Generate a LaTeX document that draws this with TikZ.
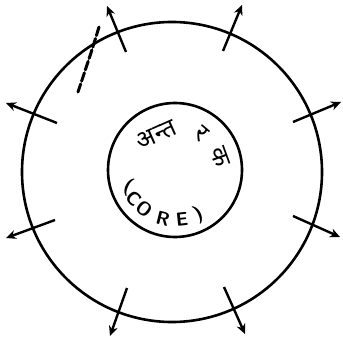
\documentclass[tikz,border=0pt]{standalone}
\usepackage{fontspec}
\newfontfamily\hindifont[Script=Devanagari]{Noto Sans}
\usepackage{tikz}
\usetikzlibrary{calc,arrows.meta,decorations.pathmorphing}

\begin{document}
\begin{tikzpicture}[x=1pt,y=-1pt,>={Stealth[length=10pt,width=9pt]},
    shell/.style={circle,draw,line width=2.6pt,inner sep=0pt},
    ray/.style={->,line width=2.4pt},
    coreletter/.style={font=\fontsize{19}{21}\selectfont\sffamily\bfseries,inner sep=0pt},
    hindi/.style={font=\fontsize{25}{28}\selectfont\hindifont\bfseries,inner sep=0pt}]
      \useasboundingbox (0,0) rectangle (342,344);
      \node[shell,minimum size=300pt] (crust) at (172,172) {};
      \node[shell,minimum size=134pt] (core) at (175,170) {};
      % outward arrows
      \foreach \n/\sx/\sy/\ex/\ey in {1/126/52/107/6, 2/223/51/242/5, 3/57/123/6/103, 4/293/122/341/102,
                                     5/55/220/6/238, 6/293/216/340/237, 7/127/288/110/336, 8/224/287/245/334} {
        \coordinate (s\n) at (\sx,\sy);
        \coordinate (e\n) at (\ex,\ey);
        \draw[ray] (s\n) -- (e\n);
      }
      % hand mark
      \draw[line width=3pt,line cap=round,dash pattern=on 9pt off 3pt] (99,27) .. controls (92,50) .. (78,92);
      % labels in the core
      \node[hindi,rotate=24] (h1) at ($(core)+(-118:40)$) {अन्त};
      \node[hindi,rotate=-40] (h2) at ($(core)+(-54:44)$) {र};
      \node[hindi,rotate=-70] (h3) at ($(core)+(-16:47)$) {क};
      \foreach \c/\a/\r [count=\i] in {{(}/200/-25,C/215/-45,O/232/-38,R/256/-14,E/278/6,{)}/298/26} {
        \node[coreletter,rotate=\r] (c\i) at ($(core)+(-\a:50)$) {\c};
      }
    \end{tikzpicture}
\end{document}
